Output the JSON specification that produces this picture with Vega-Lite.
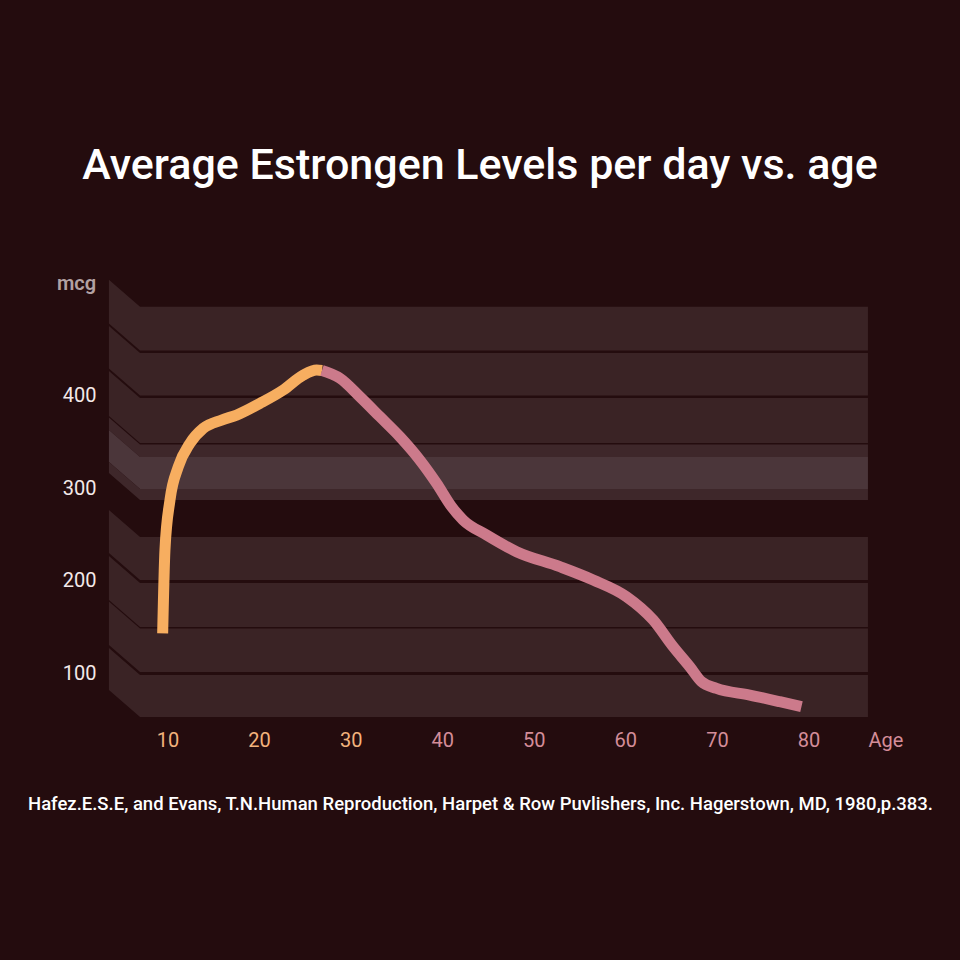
{
  "$schema": "https://vega.github.io/schema/vega-lite/v6.json",
  "width": 792,
  "height": 450,
  "autosize": {"type": "none"},
  "padding": {"left": 108, "top": 270, "right": 60, "bottom": 240},
  "background": "#240c0e",
  "config": {"view": {"stroke": null, "fill": null}, "font": "Roboto"},
  "title": {
    "text": "Average Estrongen Levels per day vs. age",
    "color": "#ffffff",
    "fontSize": 43,
    "font": "Roboto",
    "fontWeight": 500,
    "anchor": "middle",
    "frame": "group",
    "dx": -24,
    "offset": 82
  },
  "resolve": {"scale": {"color": "independent"}},
  "datasets": {
    "shelves": [
      {"band": 1, "kind": "shelf", "x": 3.6, "top": 524.5, "bottom": 477.3},
      {"band": 1, "kind": "shelf", "x": 7.0, "top": 495.4, "bottom": 448.2},
      {"band": 1, "kind": "shelf", "x": 86.5, "top": 495.4, "bottom": 448.2},
      {"band": 2, "kind": "shelf", "x": 3.6, "top": 474.6, "bottom": 428.8},
      {"band": 2, "kind": "shelf", "x": 7.0, "top": 445.5, "bottom": 399.7},
      {"band": 2, "kind": "shelf", "x": 86.5, "top": 445.5, "bottom": 399.7},
      {"band": 3, "kind": "shelf", "x": 3.6, "top": 426.1, "bottom": 377.6},
      {"band": 3, "kind": "shelf", "x": 7.0, "top": 397.0, "bottom": 348.5},
      {"band": 3, "kind": "shelf", "x": 86.5, "top": 397.0, "bottom": 348.5},
      {"band": 4, "kind": "edge", "x": 3.6, "top": 375.9, "bottom": 362.5},
      {"band": 4, "kind": "edge", "x": 7.0, "top": 346.8, "bottom": 333.4},
      {"band": 4, "kind": "edge", "x": 86.5, "top": 346.8, "bottom": 333.4},
      {"band": 5, "kind": "highlight", "x": 3.6, "top": 362.5, "bottom": 328.1},
      {"band": 5, "kind": "highlight", "x": 7.0, "top": 333.4, "bottom": 299.0},
      {"band": 5, "kind": "highlight", "x": 86.5, "top": 333.4, "bottom": 299.0},
      {"band": 6, "kind": "edge", "x": 3.6, "top": 328.1, "bottom": 316.2},
      {"band": 6, "kind": "edge", "x": 7.0, "top": 299.0, "bottom": 287.1},
      {"band": 6, "kind": "edge", "x": 86.5, "top": 299.0, "bottom": 287.1},
      {"band": 7, "kind": "shelf", "x": 3.6, "top": 276.3, "bottom": 230.0},
      {"band": 7, "kind": "shelf", "x": 7.0, "top": 247.2, "bottom": 200.9},
      {"band": 7, "kind": "shelf", "x": 86.5, "top": 247.2, "bottom": 200.9},
      {"band": 8, "kind": "shelf", "x": 3.6, "top": 226.7, "bottom": 179.3},
      {"band": 8, "kind": "shelf", "x": 7.0, "top": 197.6, "bottom": 150.2},
      {"band": 8, "kind": "shelf", "x": 86.5, "top": 197.6, "bottom": 150.2},
      {"band": 9, "kind": "shelf", "x": 3.6, "top": 177.7, "bottom": 130.8},
      {"band": 9, "kind": "shelf", "x": 7.0, "top": 148.6, "bottom": 101.7},
      {"band": 9, "kind": "shelf", "x": 86.5, "top": 148.6, "bottom": 101.7},
      {"band": 10, "kind": "shelf", "x": 3.6, "top": 127.6, "bottom": 82.3},
      {"band": 10, "kind": "shelf", "x": 7.0, "top": 98.5, "bottom": 53.2},
      {"band": 10, "kind": "shelf", "x": 86.5, "top": 98.5, "bottom": 53.2}
    ],
    "estrogen": [
      {"phase": "rise", "age": 9.47, "mcg": 143.4},
      {"phase": "rise", "age": 9.72, "mcg": 233.2},
      {"phase": "rise", "age": 10.27, "mcg": 287.1},
      {"phase": "rise", "age": 11.18, "mcg": 323.0},
      {"phase": "rise", "age": 12.45, "mcg": 348.2},
      {"phase": "rise", "age": 13.91, "mcg": 364.4},
      {"phase": "rise", "age": 15.91, "mcg": 373.3},
      {"phase": "rise", "age": 17.55, "mcg": 378.7},
      {"phase": "rise", "age": 20.1, "mcg": 391.3},
      {"phase": "rise", "age": 22.64, "mcg": 405.7},
      {"phase": "rise", "age": 24.82, "mcg": 421.8},
      {"phase": "rise", "age": 26.29, "mcg": 427.2},
      {"phase": "rise", "age": 26.87, "mcg": 426.7},
      {"phase": "decline", "age": 26.87, "mcg": 426.7},
      {"phase": "decline", "age": 28.83, "mcg": 418.3},
      {"phase": "decline", "age": 31.01, "mcg": 398.4},
      {"phase": "decline", "age": 33.2, "mcg": 376.9},
      {"phase": "decline", "age": 35.38, "mcg": 355.3},
      {"phase": "decline", "age": 37.56, "mcg": 330.2},
      {"phase": "decline", "age": 39.39, "mcg": 305.1},
      {"phase": "decline", "age": 41.03, "mcg": 279.9},
      {"phase": "decline", "age": 42.29, "mcg": 265.5},
      {"phase": "decline", "age": 44.85, "mcg": 249.4},
      {"phase": "decline", "age": 48.12, "mcg": 231.4},
      {"phase": "decline", "age": 52.85, "mcg": 215.2},
      {"phase": "decline", "age": 56.49, "mcg": 200.9},
      {"phase": "decline", "age": 60.13, "mcg": 182.9},
      {"phase": "decline", "age": 63.04, "mcg": 157.8},
      {"phase": "decline", "age": 65.22, "mcg": 129.0},
      {"phase": "decline", "age": 67.04, "mcg": 107.4},
      {"phase": "decline", "age": 68.32, "mcg": 91.3},
      {"phase": "decline", "age": 69.96, "mcg": 84.1},
      {"phase": "decline", "age": 73.59, "mcg": 76.9},
      {"phase": "decline", "age": 76.87, "mcg": 69.7},
      {"phase": "decline", "age": 79.24, "mcg": 64.3}
    ]
  },
  "layer": [
    {
      "data": {"name": "shelves"},
      "mark": {"type": "area", "orient": "vertical", "interpolate": "linear", "opacity": 1},
      "encoding": {
        "x": {"field": "x", "type": "quantitative", "scale": {"domain": [3.5, 90], "nice": false, "zero": false}},
        "y": {"field": "top", "type": "quantitative", "scale": {"domain": [50, 535], "nice": false, "zero": false}},
        "y2": {"field": "bottom"},
        "detail": {"field": "band", "type": "nominal"},
        "color": {
          "field": "kind",
          "type": "nominal",
          "scale": {"domain": ["shelf", "edge", "highlight"], "range": ["#3a2325", "#3e272a", "#4b363a"]},
          "legend": null
        }
      }
    },
    {
      "data": {"name": "estrogen"},
      "mark": {"type": "line", "strokeWidth": 11, "strokeCap": "butt", "strokeJoin": "round", "interpolate": "monotone"},
      "encoding": {
        "x": {
          "field": "age",
          "type": "quantitative",
          "scale": {"domain": [3.5, 90], "nice": false, "zero": false},
          "axis": {
            "values": [10, 20, 30, 40, 50, 60, 70, 80, 88.4],
            "format": "d",
            "labelExpr": "datum.value > 85 ? 'Age' : datum.label",
            "labelColor": {"condition": {"test": "datum.value <= 30", "value": "#f2b27c"}, "value": "#d48d99"},
            "labelFontSize": 20,
            "labelFont": "Roboto",
            "labelPadding": 10,
            "labelOverlap": false,
            "labelFlush": false,
            "labelBound": false,
            "ticks": false,
            "tickSize": 0,
            "domain": false,
            "grid": false,
            "title": "Hafez.E.S.E, and Evans, T.N.Human Reproduction, Harpet & Row Puvlishers, Inc. Hagerstown, MD, 1980,p.383.",
            "titleColor": "#ffffff",
            "titleFont": "Roboto",
            "titleFontSize": 18.5,
            "titleFontWeight": 500,
            "titleX": 372,
            "titleY": 83,
            "titleAlign": "center",
            "titleBaseline": "middle"
          }
        },
        "y": {
          "field": "mcg",
          "type": "quantitative",
          "scale": {"domain": [50, 535], "nice": false, "zero": false},
          "axis": {
            "values": [100, 200, 300, 400],
            "labelColor": "#f3e9e9",
            "labelFontSize": 20,
            "labelFont": "Roboto",
            "labelPadding": 12,
            "ticks": false,
            "tickSize": 0,
            "domain": false,
            "grid": false,
            "title": "mcg",
            "titleColor": "#b2a1a3",
            "titleFont": "Roboto",
            "titleFontSize": 20,
            "titleFontWeight": 600,
            "titleAngle": 0,
            "titleX": -32,
            "titleY": 13,
            "titleAlign": "center",
            "titleBaseline": "middle"
          }
        },
        "color": {
          "field": "phase",
          "type": "nominal",
          "scale": {"domain": ["rise", "decline"], "range": ["#f7ae60", "#cc7a8b"]},
          "legend": null
        }
      }
    }
  ]
}
